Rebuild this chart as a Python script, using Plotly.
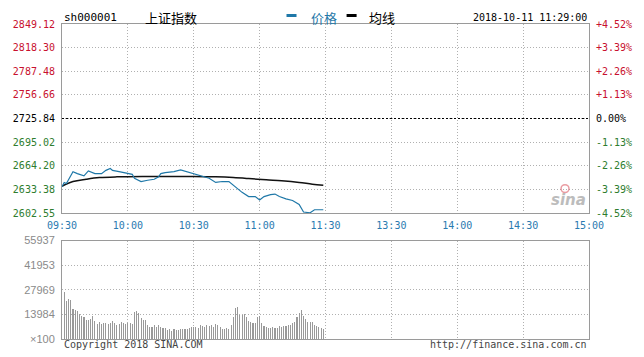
import plotly.graph_objects as go

# ---------------- data ----------------
prev_close = 2725.84
price_ticks = [2602.55, 2633.38, 2664.20, 2695.02, 2725.84, 2756.66, 2787.48, 2818.30, 2849.12]
pct_ticks = [-4.52, -3.39, -2.26, -1.13, 0.00, 1.13, 2.26, 3.39, 4.52]
time_tickvals = [0, 30, 60, 90, 120, 150, 180, 210, 240]
time_ticktext = ["09:30", "10:00", "10:30", "11:00", "11:30", "13:30", "14:00", "14:30", "15:00"]
vol_ticks = [0, 13984, 27969, 41953, 55937]
vol_ticktext = ["×100", "13984", "27969", "41953", "55937"]

price_min = [0, 1, 2, 5, 7, 8, 10, 12, 14, 15, 18, 20, 22, 23, 26, 29, 32, 33, 36, 39,
             42, 44, 45, 47, 51, 54, 57, 58, 63, 67, 70, 73, 76, 79, 82, 85, 88, 90, 92, 95,
             97, 99, 102, 105, 108, 110, 113, 115, 119]
price_val = [2636.8, 2642.4, 2641.1, 2656.5, 2653.9, 2653.0, 2651.0, 2657.4, 2655.2, 2653.9,
             2653.9, 2658.2, 2660.7, 2658.2, 2656.5, 2655.2, 2653.0, 2647.9, 2643.6, 2645.3,
             2646.6, 2649.7, 2653.9, 2655.2, 2656.5, 2658.8, 2656.5, 2655.2, 2651.0, 2647.9,
             2642.4, 2643.6, 2643.6, 2636.0, 2629.5, 2624.0, 2624.0, 2619.6, 2624.0, 2626.6,
             2627.3, 2624.0, 2620.9, 2618.9, 2613.7, 2603.8, 2602.9, 2606.8, 2606.8]

avg_min = [0, 5, 11, 17, 25, 30, 40, 50, 60, 70, 78, 85, 93, 100, 108, 114, 119]
avg_val = [2637.5, 2643.6, 2646.6, 2648.8, 2649.7, 2649.8, 2650.1, 2650.1, 2650.1, 2649.7,
           2648.8, 2647.5, 2645.8, 2644.5, 2642.4, 2640.2, 2638.9]

vol_min = list(range(1, 120))
vol_val = [26458, 21424, 22766, 22207, 16781, 16222, 15830, 13984, 12866, 12474,
           11020, 11020, 11579, 12866, 10237, 8782, 9677, 8782, 9118, 9118,
           8391, 8950, 10237, 8950, 7831, 8782, 9677, 8950, 8782, 8950,
           8950, 8391, 15271, 15830, 14711, 12138, 11020, 10628, 7831, 6880,
           6880, 7831, 6880, 7831, 6880, 5985, 5985, 5034, 5426, 4475,
           5426, 5034, 5034, 5426, 5426, 5426, 5594, 5985, 6545, 6880,
           6880, 6321, 7831, 7440, 6880, 7831, 7272, 7831, 6880, 8391,
           7831, 6880, 5426, 5426, 5985, 5594, 7831, 12474, 17341, 18068,
           13816, 13425, 13984, 12474, 10237, 9677, 9341, 8950, 12306, 12866,
           9118, 7272, 6880, 5985, 5985, 6545, 5985, 6153, 7440, 6712,
           7440, 7272, 7831, 8223, 8950, 9677, 12474, 14711, 16613, 12866,
           11190, 9677, 9677, 9677, 7831, 7272, 6880, 5985, 5426]

# ---------------- styling ----------------
RED = "#c8102e"
GREEN = "#2e7d2e"
BLACK = "#000000"
TICK_BLUE = "#2a7ab0"
GRID = "#b0b0b0"
FRAME = "#9a9a9a"
MONO = "DejaVu Sans Mono"
DOT = "1px,2px"


def colored(text, value, ref):
    c = RED if value > ref + 1e-9 else (GREEN if value < ref - 1e-9 else BLACK)
    return f'<span style="color:{c}">{text}</span>'


left_text = [colored(f"{v:.2f}", v, prev_close) for v in price_ticks]
right_text = [colored(("+" if v > 0 else "") + f"{v:.2f}%", v, 0) for v in pct_ticks]

fig = go.Figure()

fig.add_trace(go.Bar(x=vol_min, y=vol_val, xaxis="x2", yaxis="y2", width=0.5,
                     marker=dict(color="#999999", line=dict(width=0)), hoverinfo="skip"))
fig.add_trace(go.Scatter(x=avg_min, y=avg_val, mode="lines", line=dict(color="#111111", width=1.5, shape="spline"),
                         xaxis="x", yaxis="y", hoverinfo="skip"))
fig.add_trace(go.Scatter(x=price_min, y=price_val, mode="lines", line=dict(color="#1f78a8", width=1.2),
                         xaxis="x", yaxis="y", hoverinfo="skip"))
fig.add_trace(go.Scatter(x=[0], y=[0], mode="markers", marker=dict(opacity=0), xaxis="x", yaxis="y3",
                         hoverinfo="skip"))

common_x = dict(range=[0, 240], tickvals=time_tickvals, showgrid=True, gridcolor=GRID, griddash=DOT,
                gridwidth=1, showline=True, mirror=True, linecolor=FRAME, linewidth=1, zeroline=False,
                ticks="outside", ticklen=3, tickcolor="rgba(0,0,0,0)", fixedrange=True)

fig.update_layout(
    width=644, height=357,
    margin=dict(l=62, r=54, t=24, b=13),
    plot_bgcolor="white", paper_bgcolor="white",
    showlegend=False, bargap=0,
    font=dict(family=MONO, size=10, color="#000"),
    xaxis=dict(domain=[0, 1], anchor="y", ticktext=time_ticktext,
               tickfont=dict(family=MONO, size=10, color=TICK_BLUE), **common_x),
    yaxis=dict(domain=[0.4, 1], anchor="x", range=[price_ticks[0], price_ticks[-1]],
               tickvals=price_ticks, ticktext=left_text, showgrid=True, gridcolor=GRID, griddash=DOT,
               showline=True, mirror=True, linecolor=FRAME, zeroline=False,
               ticks="outside", ticklen=4, tickcolor="rgba(0,0,0,0)",
               tickfont=dict(family=MONO, size=10)),
    yaxis3=dict(overlaying="y", side="right", anchor="x", range=[pct_ticks[0], pct_ticks[-1]],
                tickvals=pct_ticks, ticktext=right_text, showgrid=False, zeroline=False,
                ticks="outside", ticklen=4, tickcolor="rgba(0,0,0,0)",
                tickfont=dict(family=MONO, size=10)),
    xaxis2=dict(domain=[0, 1], anchor="y2", showticklabels=False, **common_x),
    yaxis2=dict(domain=[0, 100 / 320], anchor="x2", range=[0, vol_ticks[-1]], tickvals=vol_ticks,
                ticktext=vol_ticktext, showgrid=True, gridcolor=GRID, griddash=DOT,
                showline=True, mirror=True, linecolor=FRAME, zeroline=False,
                ticks="outside", ticklen=4, tickcolor="rgba(0,0,0,0)",
                tickfont=dict(family="Liberation Sans", size=11, color="#8a8a8a")),
)

# previous-close reference line
fig.add_shape(type="line", xref="x", yref="y", x0=0, x1=240, y0=prev_close, y1=prev_close,
              line=dict(color="black", width=1, dash="2px,2px"), layer="above")

# header
ann = []
ann.append(dict(text="sh000001", x=0, y=1.022, xanchor="left", yanchor="middle",
                font=dict(family=MONO, size=11, color="#000")))
ann.append(dict(text="上证指数", x=0.1534, y=1.022, xanchor="left", yanchor="middle",
                font=dict(family="Noto Sans CJK SC", size=13, color="#000")))
ann.append(dict(text="价格", x=0.468, y=1.022, xanchor="left", yanchor="middle",
                font=dict(family="Noto Sans CJK SC", size=13, color="#1f78a8")))
ann.append(dict(text="均线", x=0.5795, y=1.022, xanchor="left", yanchor="middle",
                font=dict(family="Noto Sans CJK SC", size=13, color="#000")))
ann.append(dict(text="2018-10-11 11:29:00", x=1.0, y=1.022, xanchor="right", yanchor="middle",
                font=dict(family=MONO, size=10, color="#000")))
ann.append(dict(text="Copyright 2018 SINA.COM", x=0, y=-0.016, xanchor="left", yanchor="middle",
                font=dict(family=MONO, size=10, color="#444")))
ann.append(dict(text="http://finance.sina.com.cn", x=1.0, y=-0.016, xanchor="right", yanchor="middle",
                font=dict(family=MONO, size=10, color="#444")))
ann.append(dict(text="<b><i>sina</i></b>", x=0.962, y=0.44, xanchor="center", yanchor="middle",
                font=dict(family="DejaVu Sans", size=15, color="#bcbcbc")))
for a in ann:
    a.update(xref="paper", yref="paper", showarrow=False)
fig.update_layout(annotations=ann)

# legend dashes
fig.add_shape(type="line", xref="paper", yref="paper", x0=0.426, x1=0.445, y0=1.027, y1=1.027,
              line=dict(color="#1f78a8", width=3))
fig.add_shape(type="line", xref="paper", yref="paper", x0=0.540, x1=0.559, y0=1.027, y1=1.027,
              line=dict(color="#000", width=3))
# watermark eye
fig.add_shape(type="circle", xref="paper", yref="paper", x0=0.947, x1=0.962, y0=0.465, y1=0.49,
              line=dict(color="rgba(220,90,100,0.6)", width=1.5), fillcolor="rgba(255,255,255,0)")

fig.write_html("out.html", config={"displayModeBar": False, "staticPlot": True},
               post_script="document.body.style.margin='0';document.body.style.overflow='hidden';")
